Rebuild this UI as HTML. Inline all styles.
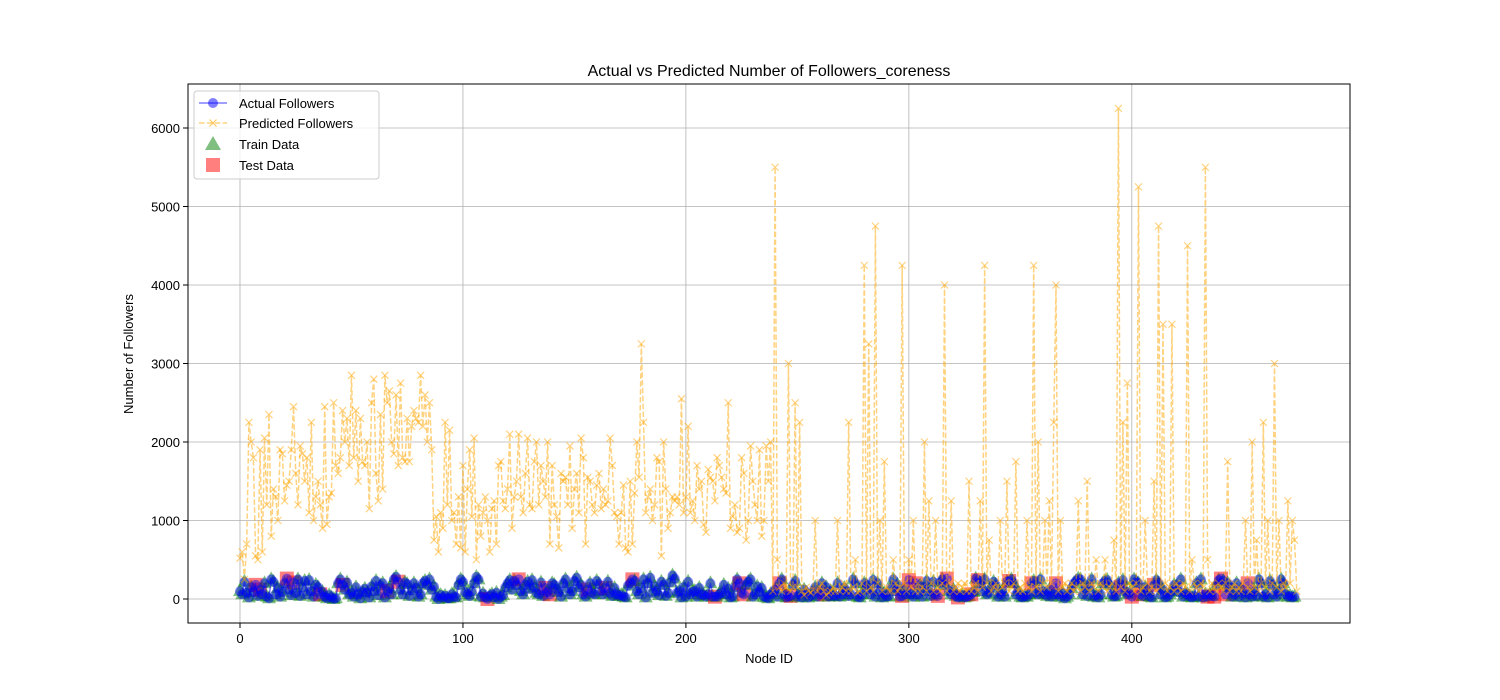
<!DOCTYPE html>
<html><head><meta charset="utf-8"><style>
body{margin:0;background:#fff;}
svg{display:block;font-family:"Liberation Sans","DejaVu Sans",sans-serif;}
</style></head><body>
<svg id="chart" width="1500" height="700"></svg>
<script>
const predicted=[
520,600,250,700,2250,2000,1800,550,500,1900,
600,2050,1200,2350,800,1400,1300,1000,1900,1850,
1250,1450,1500,1900,2450,1600,1200,1950,1850,1500,
1800,1100,2250,1000,1300,1500,1200,900,2450,950,
1300,1350,2500,1700,1600,1800,2400,2000,2300,1700,
2850,1800,2400,1500,2300,1750,1700,2000,1150,2500,
2800,1600,1250,2350,1400,2850,2500,2650,2000,1850,
2600,1700,2750,1800,1750,2300,1750,2200,2400,2300,
2250,2850,2200,2600,2000,2500,1900,750,1050,600,
1100,900,2250,1200,2150,1000,1100,700,1300,650,
1700,600,1400,1900,1050,2050,500,1200,800,1100,
1300,1000,600,1150,1250,700,1700,1750,1250,1150,
1400,2100,900,1300,1500,2100,1300,1100,1600,2050,
1200,1150,1750,2000,1200,1700,1500,1300,2000,700,
1700,1200,1050,650,1600,1500,1550,1200,1950,900,
1400,1600,1100,2050,1800,700,1550,1500,1200,1100,
1450,1600,1150,1400,1200,1250,2050,1700,1100,1050,
700,1100,1450,650,600,1500,700,1350,2000,1550,
3250,2250,1100,1300,1400,1000,1200,1800,1750,550,
2000,1400,900,1100,1300,1250,1300,1200,2550,1100,
1300,2200,1100,1250,1000,1700,1400,1500,950,850,
1650,1550,1500,1250,1800,1700,1550,1400,1350,2500,
900,1050,1200,850,900,1800,1600,750,1000,1950,
1500,1200,1000,1900,800,1000,1950,1500,2000,100,
5500,500,150,100,200,150,3000,100,150,2500,
150,2250,100,50,150,100,80,120,1000,100,
150,200,100,50,80,100,150,100,1000,100,
150,200,100,2250,100,150,500,80,100,200,
4250,100,3250,150,100,4750,200,1000,100,1750,
150,100,100,500,200,100,150,4250,200,100,
500,150,1000,100,200,100,150,2000,100,1250,
200,100,1000,150,100,200,4000,100,200,1250,
100,150,200,100,150,200,100,1500,100,150,
200,100,1250,150,4250,200,750,100,150,200,
100,1000,150,200,1500,100,150,200,1750,100,
150,100,200,1000,150,100,4250,150,2000,100,
200,1000,150,1250,200,2250,4000,100,1000,150,
200,100,150,200,100,150,1250,100,200,150,
1500,100,200,150,500,100,200,150,500,100,
150,200,750,100,6250,150,2250,100,2750,200,
150,100,200,5250,100,150,1000,200,100,150,
1500,100,4750,150,3500,200,100,150,3500,100,
200,150,100,200,150,4500,100,500,200,150,
100,200,150,5500,500,100,200,150,100,200,
150,100,200,1750,100,150,200,100,150,100,
200,1000,150,100,2000,150,750,100,200,2250,
150,1000,100,200,3000,150,1000,100,200,150,
1250,200,1000,750,100];
const actual=[
100,60,220,80,20,150,90,180,40,120,60,200,30,10,250,220,60,140,30,90,200,260,120,50,210,
80,250,40,150,230,60,240,100,30,180,150,60,90,30,10,50,20,0,10,200,250,180,120,210,60,
80,30,150,60,10,90,130,80,20,160,100,230,50,170,200,20,100,140,60,250,280,220,120,60,210,
190,40,110,200,140,30,60,200,230,180,250,120,160,30,0,50,20,40,10,10,60,30,20,180,250,
220,90,60,40,100,200,280,250,30,70,20,0,40,60,20,80,0,30,50,150,200,240,120,230,180,
250,100,60,180,220,130,240,150,80,60,210,40,140,90,60,200,180,130,90,30,200,250,140,60,100,
230,270,150,180,60,30,120,200,80,60,230,190,100,60,140,220,80,40,140,60,40,50,30,20,170,
200,250,230,100,60,140,250,20,200,270,80,160,100,50,220,180,40,80,210,300,260,80,100,20,150,
30,220,60,90,100,30,140,60,50,30,60,200,30,30,30,60,80,180,60,130,20,30,150,250,200,
80,60,180,220,250,30,60,160,90,140,30,20,10,60,80,120,30,200,250,60,20,30,40,180,230,
30,60,20,120,80,20,40,100,150,30,60,200,60,150,30,100,40,40,200,30,60,140,100,40,60,
250,200,30,20,60,200,180,120,60,240,30,200,100,20,70,30,40,140,250,100,180,30,40,120,60,
240,60,30,200,60,170,30,140,230,100,40,220,60,40,210,250,180,260,100,60,120,40,20,30,50,
20,30,40,60,90,260,240,200,100,250,60,80,140,220,180,30,60,100,30,220,230,250,200,60,100,
30,20,40,30,60,200,230,80,60,250,100,60,40,120,30,60,200,60,30,80,10,30,60,140,200,
230,260,250,60,180,40,150,250,30,50,20,60,200,230,240,180,60,30,40,200,150,240,100,60,80,
30,250,220,200,60,40,150,100,30,20,180,240,200,60,120,20,30,60,100,180,160,90,250,30,80,
60,30,20,40,200,30,250,20,60,30,60,40,30,180,240,260,230,60,200,150,30,
60,200,30,120,80,20,200,60,30,100,40,250,200,30,60,20,230,180,60,30,100,250,200,60,30,40,20,30];
const testIdx=[7,9,21,24,36,46,66,71,111,125,137,139,156,164,176,213,224,226,242,247,262,297,300,303,313,317,322,328,331,345,355,366,395,400,404,410,434,437,440,442,452];
const xTicks=[0,100,200,300,400];
const yTicks=[0,1000,2000,3000,4000,5000,6000];
const X0=188,X1=1350,Y0=84,Y1=623;
const xs=v=>240+v*2.2295;
const ys=v=>599-v*0.0785;
const svg=document.getElementById('chart');
const NS='http://www.w3.org/2000/svg';
function mk(t,a,p){const e=document.createElementNS(NS,t);for(const k in a)e.setAttribute(k,a[k]);(p||svg).appendChild(e);return e;}
xTicks.forEach(t=>{
const l=mk('line',{x1:xs(t),x2:xs(t),y1:Y0,y2:Y1,stroke:'#b0b0b0','stroke-width':0.8});


mk('line',{x1:xs(t),x2:xs(t),y1:Y1,y2:Y1+5,stroke:'#000'});
const tx=mk('text',{x:xs(t),y:Y1+20,'text-anchor':'middle','font-size':13});
tx.textContent=t;


});
yTicks.forEach(t=>{
const l=mk('line',{x1:X0,x2:X1,y1:ys(t),y2:ys(t),stroke:'#b0b0b0','stroke-width':0.8});


mk('line',{x1:X0-5,x2:X0,y1:ys(t),y2:ys(t),stroke:'#000'});
const tx=mk('text',{x:X0-8,y:ys(t)+5,'text-anchor':'end','font-size':13});
tx.textContent=t;


});
const sc=mk('g',{});


actual.forEach((v,i)=>{const x=xs(i),y=ys(v);
if(testIdx.includes(i)){
const r=mk('rect',{x:x-7,y:y-7,width:14,height:14,fill:'#ff0000','fill-opacity':0.5},sc);


}else{
const p=mk('polygon',{points:`${x},${y-8} ${x-7},${y+5} ${x+7},${y+5}`,fill:'#008000','fill-opacity':0.5},sc);


}});
const al=mk('polyline',{points:actual.map((v,i)=>xs(i)+','+ys(v)).join(' '),fill:'none',stroke:'#0000ff','stroke-opacity':0.5,'stroke-width':1.5});


actual.forEach((v,i)=>{
const c=mk('circle',{cx:xs(i),cy:ys(v),r:5,fill:'#0000ff','fill-opacity':0.45});


});
const pl=mk('polyline',{points:predicted.map((v,i)=>xs(i)+','+ys(v)).join(' '),fill:'none',stroke:'#ffa500','stroke-opacity':0.5,'stroke-width':1.5,'stroke-dasharray':'5.5,2.4'});


const pm=mk('g',{stroke:'#ffa500','stroke-opacity':0.5,'stroke-width':1.2});


predicted.forEach((v,i)=>{const x=xs(i),y=ys(v);mk('path',{d:`M${x-3.5},${y-3.5}L${x+3.5},${y+3.5}M${x-3.5},${y+3.5}L${x+3.5},${y-3.5}`},pm);});
const fr=mk('rect',{x:X0,y:Y0,width:X1-X0,height:Y1-Y0,fill:'none',stroke:'#000','stroke-width':1});


const ti=mk('text',{x:769,y:76,'text-anchor':'middle','font-size':16});
ti.textContent='Actual vs Predicted Number of Followers_coreness';


const xl=mk('text',{x:769,y:663,'text-anchor':'middle','font-size':13});
xl.textContent='Node ID';


const yl=mk('text',{x:133,y:354,'text-anchor':'middle','font-size':13,transform:'rotate(-90 133 354)'});
yl.textContent='Number of Followers';


const lg=mk('g',{});


mk('rect',{x:194,y:91,width:185,height:88,rx:3,fill:'#fff','fill-opacity':0.8,stroke:'#ccc'},lg);
mk('line',{x1:199,x2:227,y1:103,y2:103,stroke:'#0000ff','stroke-opacity':0.5,'stroke-width':1.5},lg);
mk('circle',{cx:213,cy:103,r:5,fill:'#0000ff','fill-opacity':0.5},lg);
mk('line',{x1:199,x2:227,y1:123,y2:123,stroke:'#ffa500','stroke-opacity':0.5,'stroke-width':1.5,'stroke-dasharray':'5.5,2.4'},lg);
mk('path',{d:'M209.5,119.5L216.5,126.5M209.5,126.5L216.5,119.5',stroke:'#ffa500','stroke-opacity':0.6,'stroke-width':1.2},lg);
mk('polygon',{points:'213,136 205,150 221,150',fill:'#008000','fill-opacity':0.5},lg);
mk('rect',{x:206,y:158,width:14,height:14,fill:'#ff0000','fill-opacity':0.5},lg);
[['Actual Followers',108],['Predicted Followers',128],['Train Data',149],['Test Data',170]].forEach(([t,y])=>{
const e=mk('text',{x:239,y:y,'font-size':13},lg);
e.textContent=t;


});
</script>
</body></html>
